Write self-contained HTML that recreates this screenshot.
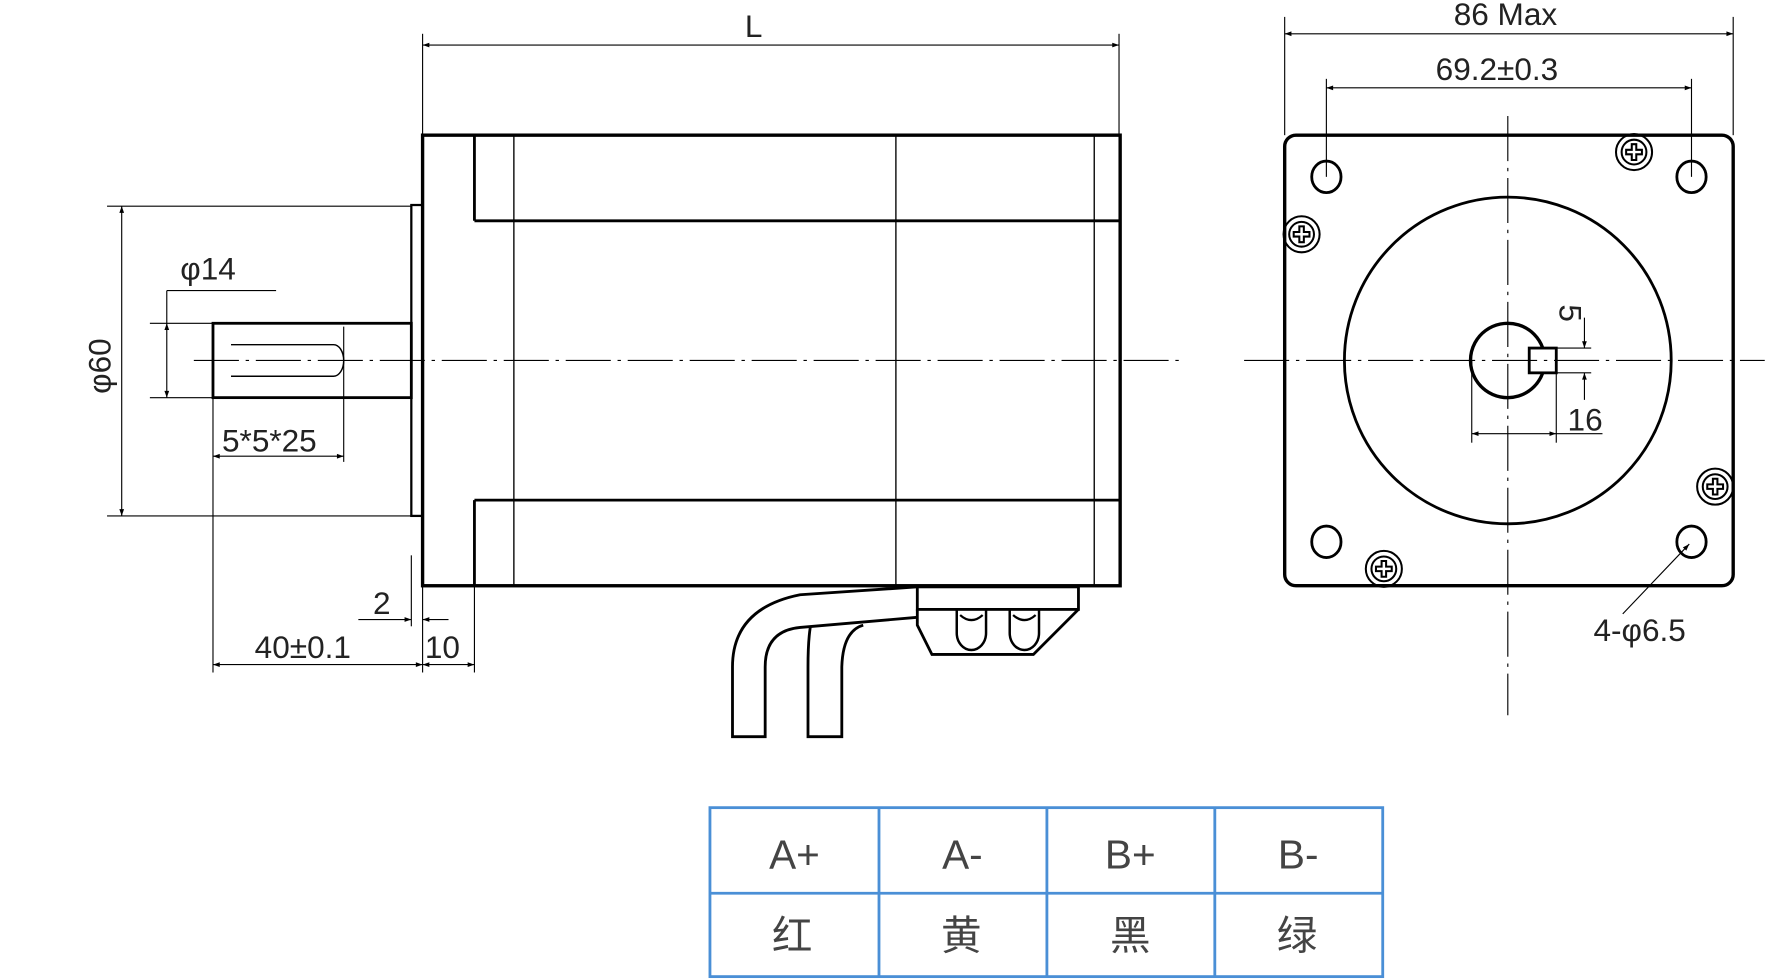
<!DOCTYPE html>
<html><head><meta charset="utf-8"><style>
html,body{margin:0;padding:0;background:#fff;}
svg{display:block;}
text{font-family:"Liberation Sans","Noto Sans CJK SC",sans-serif;fill:#222;}
</style></head><body>
<svg width="1767" height="980" viewBox="0 0 1568 870" preserveAspectRatio="none" xmlns="http://www.w3.org/2000/svg">
<defs>
<marker id="a" viewBox="0 0 10 10" refX="10" refY="5" markerWidth="9" markerHeight="6" orient="auto-start-reverse" markerUnits="userSpaceOnUse"><path d="M0,1.5 L10,5 L0,8.5 z" fill="#000"/></marker>
</defs>
<g fill="none" stroke="#000">
<line x1="172" y1="320" x2="1052" y2="320" stroke-width="1" stroke-dasharray="40,6,3,6"/>
<line x1="1104" y1="320" x2="1566" y2="320" stroke-width="1" stroke-dasharray="40,6,3,6"/>
<line x1="1338" y1="103" x2="1338" y2="635" stroke-width="1" stroke-dasharray="40,6,3,6"/>

<rect x="375" y="120" width="619" height="400" stroke-width="3"/>
<line x1="421" y1="120" x2="421" y2="196" stroke-width="2.5"/>
<line x1="421" y1="444" x2="421" y2="520" stroke-width="2.5"/>
<line x1="421" y1="196" x2="994" y2="196" stroke-width="2.5"/>
<line x1="421" y1="444" x2="994" y2="444" stroke-width="2.5"/>
<line x1="456" y1="120" x2="456" y2="520" stroke-width="1.2"/>
<line x1="795" y1="120" x2="795" y2="520" stroke-width="1.2"/>
<line x1="971" y1="120" x2="971" y2="520" stroke-width="1.2"/>
<rect x="365" y="182" width="10" height="276" stroke-width="2"/>
<rect x="189" y="287" width="176" height="66" stroke-width="2.5"/>
<path d="M205,306 H296 A9,14 0 0 1 296,334 H205" stroke-width="1.3"/>

<path d="M814,521 L710,528 Q650,540 650,592 V654 H679 V592 Q679,560 710,557 L814,548" stroke-width="2.5"/>
<path d="M719,557 Q717,570 717,592 V654 H747 V592 Q748,560 766,555" stroke-width="2.5"/>
<rect x="814" y="521" width="143" height="20" stroke-width="2.5"/>
<path d="M814,541 V555 L827,581 H917 L957,541" stroke-width="2.5"/>
<path d="M849,541 V562 A13,15 0 0 0 875,562 V541" stroke-width="2.2"/>
<path d="M896,541 V562 A13,15 0 0 0 922,562 V541" stroke-width="2.2"/>
<path d="M852,546 Q862,555 872,546" stroke-width="2"/>
<path d="M899,546 Q909,555 919,546" stroke-width="2"/>

<g stroke-width="1">
<line x1="375" y1="30" x2="375" y2="120"/><line x1="993" y1="30" x2="993" y2="120"/>
<line x1="375" y1="40" x2="993" y2="40" marker-start="url(#a)" marker-end="url(#a)"/>
<line x1="95" y1="183" x2="365" y2="183"/><line x1="95" y1="458" x2="365" y2="458"/>
<line x1="108" y1="183" x2="108" y2="458" marker-start="url(#a)" marker-end="url(#a)"/>
<line x1="148" y1="258" x2="245" y2="258"/>
<line x1="133" y1="287" x2="189" y2="287"/><line x1="133" y1="353" x2="189" y2="353"/>
<line x1="148" y1="258" x2="148" y2="287"/>
<line x1="148" y1="287" x2="148" y2="353" marker-start="url(#a)" marker-end="url(#a)"/>
<line x1="305" y1="290" x2="305" y2="410"/>
<line x1="189" y1="405" x2="305" y2="405" marker-start="url(#a)" marker-end="url(#a)"/>
<line x1="189" y1="353" x2="189" y2="597"/>
<line x1="375" y1="520" x2="375" y2="597"/><line x1="421" y1="520" x2="421" y2="597"/>
<line x1="365" y1="493" x2="365" y2="556"/>
<line x1="318" y1="550" x2="365" y2="550" marker-end="url(#a)"/>
<line x1="398" y1="550" x2="375" y2="550" marker-end="url(#a)"/>
<line x1="189" y1="590" x2="375" y2="590" marker-start="url(#a)" marker-end="url(#a)"/>
<line x1="375" y1="590" x2="421" y2="590" marker-start="url(#a)" marker-end="url(#a)"/>
</g>

<rect x="1140" y="120" width="398" height="400" rx="10" stroke-width="3"/>
<circle cx="1338" cy="320" r="145" stroke-width="2.5"/>
<path d="M1369,309 A33,33 0 1 0 1369,331" stroke-width="3"/>
<rect x="1357" y="309" width="24" height="22" stroke-width="2.5"/>
<g stroke-width="2.5">
<ellipse cx="1177" cy="157" rx="13" ry="14"/><ellipse cx="1501" cy="157" rx="13" ry="14"/>
<ellipse cx="1177" cy="481" rx="13" ry="14"/><ellipse cx="1501" cy="481" rx="13" ry="14"/>
</g>
<g stroke-width="1.8">
<g transform="translate(1450,135)"><circle r="16"/><circle r="11"/><path d="M-2,-7 H2 V-2 H7 V2 H2 V7 H-2 V2 H-7 V-2 H-2 Z"/></g>
<g transform="translate(1155,208)"><circle r="16"/><circle r="11"/><path d="M-2,-7 H2 V-2 H7 V2 H2 V7 H-2 V2 H-7 V-2 H-2 Z"/></g>
<g transform="translate(1522,432)"><circle r="16"/><circle r="11"/><path d="M-2,-7 H2 V-2 H7 V2 H2 V7 H-2 V2 H-7 V-2 H-2 Z"/></g>
<g transform="translate(1228,505)"><circle r="16"/><circle r="11"/><path d="M-2,-7 H2 V-2 H7 V2 H2 V7 H-2 V2 H-7 V-2 H-2 Z"/></g>
</g>
<g stroke-width="1">
<line x1="1140" y1="15" x2="1140" y2="120"/><line x1="1538" y1="15" x2="1538" y2="120"/>
<line x1="1140" y1="30" x2="1538" y2="30" marker-start="url(#a)" marker-end="url(#a)"/>
<line x1="1177" y1="70" x2="1177" y2="157"/><line x1="1501" y1="70" x2="1501" y2="157"/>
<line x1="1177" y1="78" x2="1501" y2="78" marker-start="url(#a)" marker-end="url(#a)"/>
<line x1="1306" y1="320" x2="1306" y2="393"/><line x1="1381" y1="331" x2="1381" y2="393"/>
<line x1="1306" y1="385" x2="1381" y2="385" marker-start="url(#a)" marker-end="url(#a)"/>
<line x1="1381" y1="385" x2="1422" y2="385"/>
<line x1="1381" y1="309" x2="1412" y2="309"/><line x1="1381" y1="331" x2="1412" y2="331"/>
<line x1="1406" y1="282" x2="1406" y2="309" marker-end="url(#a)"/>
<line x1="1406" y1="355" x2="1406" y2="331" marker-end="url(#a)"/>
<line x1="1440" y1="545" x2="1499" y2="483" marker-end="url(#a)"/>
</g>
</g>

<g font-size="28">
<text x="661" y="33">L</text>
<text x="1290" y="22">86 Max</text>
<text x="1274" y="71">69.2±0.3</text>
<text x="160" y="248">φ14</text>
<text x="197" y="401">5*5*25</text>
<text x="331" y="545">2</text>
<text x="226" y="584">40±0.1</text>
<text x="377" y="584">10</text>
<text x="1391" y="382">16</text>
<text x="1414" y="569">4-φ6.5</text>
<text transform="translate(98,325) rotate(-90)" text-anchor="middle">φ60</text>
<text transform="translate(1384,278) rotate(90)" text-anchor="middle">5</text>
</g>

<g stroke="#4a8fd6" stroke-width="2.5" fill="none">
<rect x="630" y="717" width="597" height="150"/>
<line x1="630" y1="793" x2="1227" y2="793"/>
<line x1="780" y1="717" x2="780" y2="867"/>
<line x1="929" y1="717" x2="929" y2="867"/>
<line x1="1078" y1="717" x2="1078" y2="867"/>
</g>
<g font-size="36" text-anchor="middle">
<text x="705" y="771" style="fill:#444">A+</text>
<text x="854" y="771" style="fill:#444">A-</text>
<text x="1003" y="771" style="fill:#444">B+</text>
<text x="1152" y="771" style="fill:#444">B-</text>
<text x="703" y="843" style="fill:#444">红</text>
<text x="853" y="843" style="fill:#444">黄</text>
<text x="1003" y="843" style="fill:#444">黑</text>
<text x="1151" y="843" style="fill:#444">绿</text>
</g>
</svg>
</body></html>
